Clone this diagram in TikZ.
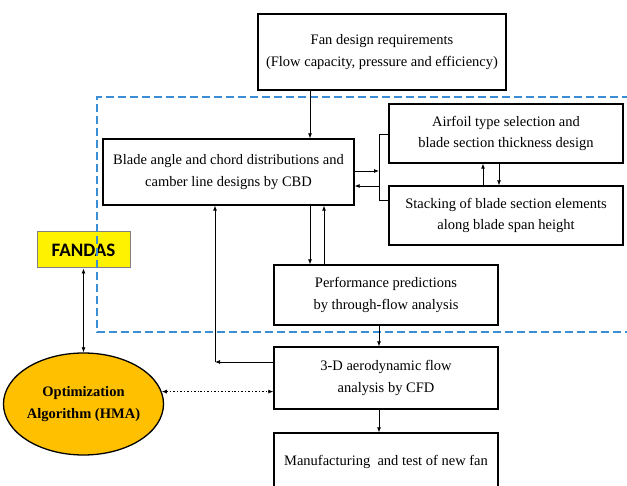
\documentclass[tikz,border=0pt]{standalone}
\usepackage{fontspec}
\setmainfont{Liberation Serif}
\newfontfamily\fandasfont{Carlito}
\usetikzlibrary{arrows.meta,shapes.geometric}
\definecolor{dashblue}{HTML}{3B8ED6}
\definecolor{optorange}{HTML}{FFC000}

\tikzset{
	stepbox/.style={draw, line width=1.3pt, align=center, inner sep=0pt, font=\fontsize{14.5}{21.5}\selectfont},
	link/.style={line width=0.8pt},
	>={Latex[length=5pt,width=4pt]}
}

\begin{document}
\begin{tikzpicture}[x=1pt,y=-1pt]
	\clip (0,0) rectangle (627,486);
	
	% boxes
	\node[stepbox, minimum width=248pt, minimum height=76pt] (fan) at (382,52) {Fan design requirements\\(Flow capacity, pressure and efficiency)};
	
	\node[stepbox, minimum width=251pt, minimum height=66pt] (cbd) at (228.5,172) {Blade angle and chord distributions and\\camber line designs by CBD};
	
	\node[stepbox, minimum width=234pt, minimum height=59pt] (airfoil) at (506,133.5) {Airfoil type selection and\\blade section thickness design};
	
	\node[stepbox, minimum width=234pt, minimum height=59pt] (stack) at (506,215.5) {Stacking of blade section elements\\along blade span height};
	
	\node[stepbox, minimum width=224pt, minimum height=60pt] (perf) at (386,295) {Performance predictions\\by through-flow analysis};
	
	\node[stepbox, minimum width=224pt, minimum height=62pt] (cfd) at (386,378) {3-D aerodynamic flow\\analysis by CFD};
	
	\node[stepbox, minimum width=224pt, minimum height=58pt] (manuf) at (386,462) {Manufacturing\ \ and test of new fan};
	
	\node[draw=gray, line width=1pt, fill=yellow, minimum width=93pt, minimum height=36pt, inner sep=0pt, font=\fandasfont\bfseries\fontsize{19}{19}\selectfont] (fandas) at (83.5,250) {FANDAS};
	
	\node[ellipse, draw, line width=1.3pt, fill=optorange, minimum width=145pt, minimum height=102pt, inner sep=0pt, align=center, font=\bfseries\fontsize{14.5}{21.5}\selectfont] (opt) at (83.5,404) {Optimization\\Algorithm (HMA)};
	
	% design loop region
	\draw[dashblue, line width=1.6pt, dash pattern=on 8pt off 4pt] (630,97) -- (97,97) -- (97,332) -- (630,332);
	
	% lanes
	\coordinate (down) at (310,0);
	\coordinate (up) at (324,0);
	\coordinate (brk) at (379,171);
	\coordinate (brt) at (379,134);
	\coordinate (brm) at (379,186);
	\coordinate (brb) at (379,200);
	\coordinate (fb) at (215,362);
	
	\draw[link, ->] (fan.south -| down) -- (cbd.north -| down);
	
	\draw[link, ->] (cbd.south -| down) -- (perf.north -| down);
	
	\draw[link, ->] (perf.north -| up) -- (cbd.south -| up);
	
	\draw[link, ->] (cbd.east |- brk) -- (brk);
	
	\draw[link] (airfoil.west |- brt) -- (brt) -- (brb) -- (stack.west |- brb);
	
	\draw[link, ->] (brm) -- (cbd.east |- brm);
	
	\draw[link, ->] (stack.north -| 483,0) -- (airfoil.south -| 483,0);
	
	\draw[link, ->] (airfoil.south -| 499,0) -- (stack.north -| 499,0);
	
	\draw[link, ->] (perf.south -| brk) -- (cfd.north -| brk);
	
	\draw[link, ->] (cfd.south -| brk) -- (manuf.north -| brk);
	
	% feedback from CFD
	\draw[link, ->] (cfd.west |- fb) -- (fb);
	
	\draw[link, ->] (fb) -- (cbd.south -| fb);
	
	% optimizer links
	\draw[link, <->] (fandas.south) -- (opt.north);
	
	\draw[link, <->, dash pattern=on 2pt off 2pt on 0.8pt off 2pt] (opt.9) -- (cfd.west |- opt.9);
	
\end{tikzpicture}
\end{document}
